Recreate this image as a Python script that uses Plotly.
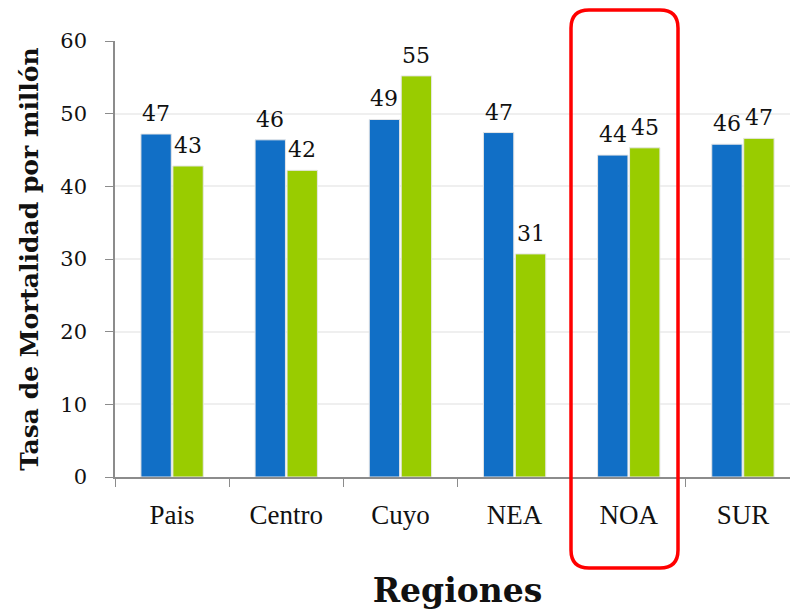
import plotly.graph_objects as go

regiones = ["Pais", "Centro", "Cuyo", "NEA", "NOA", "SUR"]
serie_azul = [47.2, 46.4, 49.2, 47.4, 44.3, 45.8]
serie_verde = [42.8, 42.2, 55.2, 30.7, 45.3, 46.6]
y_ticks = [0, 10, 20, 30, 40, 50, 60]

W, H = 798, 609
OFF = 8  # page body margin
ML, MR, MT, MB = 107, 6, 33, 140
PW, PH = W - ML - MR, H - MT - MB
BARGAP = 0.44


def px(x):
    return (x - OFF - ML) / PW


def py(y):
    return (H - MB - (y - OFF)) / PH


fig = go.Figure()
colors = ["#116FC6", "#99CC00"]
series = [serie_azul, serie_verde]
for vals, col in zip(series, colors):
    fig.add_trace(go.Bar(x=regiones, y=vals,
                         marker=dict(color=col, line=dict(color="#e6e6e6", width=1))))

# value labels above bars
slot = PW / len(regiones) * (1 - BARGAP) / 2
for k, (vals, sh) in enumerate(zip(series, [-slot / 2, slot / 2])):
    for cat, v in zip(regiones, vals):
        fig.add_annotation(x=cat, y=v, text=f"{v:.0f}", showarrow=False,
                           xref="x", yref="y", xanchor="center", yanchor="bottom",
                           xshift=sh, yshift=6,
                           font=dict(family="DejaVu Serif", size=22, color="#111111"))

# rounded red highlight box
x0, x1, y0, y1, r = px(571), px(678), py(10), py(568), 18
rx, ry = r / PW, r / PH
path = (f"M {x0+rx},{y0} L {x1-rx},{y0} Q {x1},{y0} {x1},{y0-ry} "
        f"L {x1},{y1+ry} Q {x1},{y1} {x1-rx},{y1} "
        f"L {x0+rx},{y1} Q {x0},{y1} {x0},{y1+ry} "
        f"L {x0},{y0-ry} Q {x0},{y0} {x0+rx},{y0} Z")
fig.add_shape(type="path", path=path, xref="paper", yref="paper",
              line=dict(color="#FF0000", width=3.5), layer="above")

fig.update_layout(
    width=W, height=H, autosize=False,
    margin=dict(l=ML, r=MR, t=MT, b=MB, pad=0),
    paper_bgcolor="white", plot_bgcolor="white",
    showlegend=False, barmode="group", bargap=BARGAP, bargroupgap=0.05,
    xaxis=dict(
        automargin=False,
        showline=True, linecolor="#8c8c8c", linewidth=1.5,
        ticks="outside", tickson="boundaries", ticklen=8, tickcolor="#8c8c8c",
        tickfont=dict(family="Liberation Serif", size=27, color="#111111"),
        ticklabelstandoff=13,
        title=dict(text="<b>Regiones</b>", standoff=50,
                   font=dict(family="DejaVu Serif", size=33, color="#111111")),
    ),
    yaxis=dict(
        automargin=False,
        range=[0, 60], tickvals=y_ticks,
        showline=True, linecolor="#8c8c8c", linewidth=1.5,
        ticks="outside", ticklen=8, tickcolor="#8c8c8c",
        showgrid=True, gridcolor="#efefef", gridwidth=1.5, zeroline=False,
        tickfont=dict(family="DejaVu Serif", size=21, color="#111111"),
        ticklabelstandoff=14,
        title=dict(text="<b>Tasa de Mortalidad por millón</b>", standoff=15,
                   font=dict(family="DejaVu Serif", size=25, color="#111111")),
    ),
)

fig.write_html("out.html")
